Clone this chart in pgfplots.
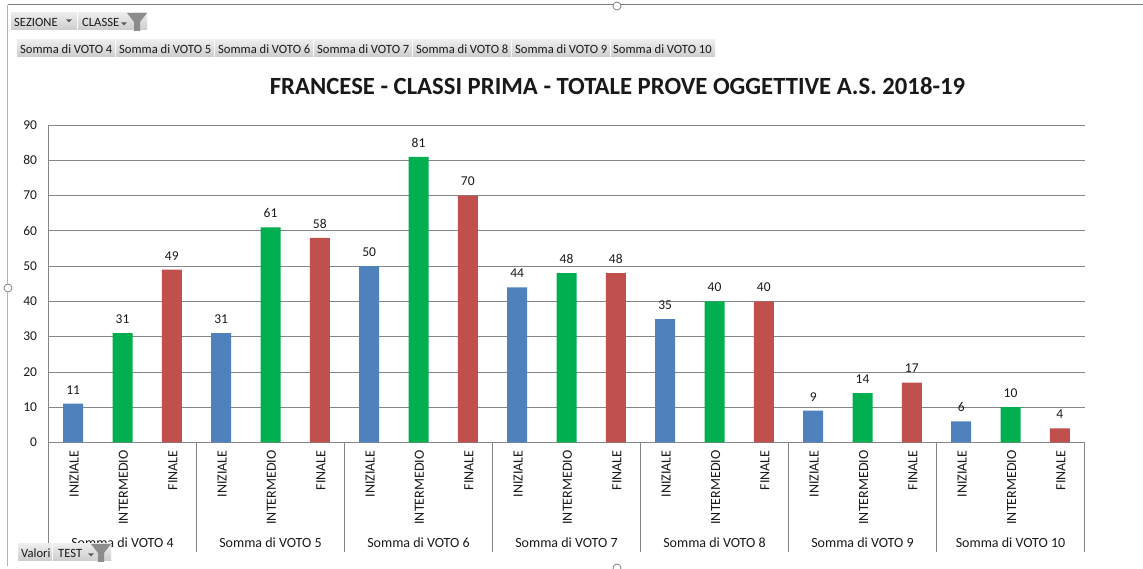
\documentclass[border=0pt]{standalone}
\usepackage{pgfplots}
\pgfplotsset{compat=1.18}
\usepackage{fontspec}
\setmainfont{Carlito}
\definecolor{cblue}{HTML}{4F81BD}
\definecolor{cgreen}{HTML}{00B050}
\definecolor{cred}{HTML}{C0504D}
\definecolor{cgrid}{HTML}{868686}
\definecolor{ctext}{HTML}{1A1A1A}
\pgfplotstableread{
x y
0.5 11
3.5 31
6.5 50
9.5 44
12.5 35
15.5 9
18.5 6
}\iniziale
\pgfplotstableread{
x y
1.5 31
4.5 61
7.5 81
10.5 48
13.5 40
16.5 14
19.5 10
}\intermedio
\pgfplotstableread{
x y
2.5 49
5.5 58
8.5 70
11.5 48
14.5 40
17.5 17
20.5 4
}\finale
\begin{document}
\begin{tikzpicture}[x=1pt,y=1pt]
\path[use as bounding box] (0,0) rectangle (1143,569);
\fill[white] (0,0) rectangle (1143,569);
\begin{axis}[
  at={(48.5pt,126.5pt)},anchor=south west,
  scale only axis,width=1036pt,height=317.5pt,
  xmin=0,xmax=21,ymin=0,ymax=90,
  axis x line=bottom,axis y line=left,
  axis line style={cgrid,-,line width=0.8pt},
  ymajorgrids,grid style={cgrid,line width=0.7pt},
  ytick={0,10,...,90},
  xtick={0.5,1.5,...,20.5},
  xticklabels={INIZIALE,INTERMEDIO,FINALE,INIZIALE,INTERMEDIO,FINALE,INIZIALE,INTERMEDIO,FINALE,INIZIALE,INTERMEDIO,FINALE,INIZIALE,INTERMEDIO,FINALE,INIZIALE,INTERMEDIO,FINALE,INIZIALE,INTERMEDIO,FINALE},
  major tick length=0pt,
  x tick label style={rotate=90,anchor=east,font=\fontsize{14}{15}\selectfont,text=ctext,yshift=-1pt},
  y tick label style={font=\fontsize{13.5}{15}\selectfont,text=ctext},
  xticklabel shift=4.5pt,
  yticklabel shift=8pt,
  /pgf/number format/assume math mode=true,
  ybar,bar width=20pt,
  clip=false,
  nodes near coords,
  nodes near coords style={font=\fontsize{13.5}{15}\selectfont,text=ctext,yshift=6pt},
]
\addplot[ybar,bar shift=0pt,fill=cblue,draw=none] table[x=x,y=y]{\iniziale};
\addplot[ybar,bar shift=0pt,fill=cgreen,draw=none] table[x=x,y=y]{\intermedio};
\addplot[ybar,bar shift=0pt,fill=cred,draw=none] table[x=x,y=y]{\finale};
\pgfplotsinvokeforeach{0,3,6,9,12,15,18,21}{
  \draw[cgrid,line width=0.8pt] (axis cs:#1,0) -- ++(0,-109.5pt);
}
\foreach \i/\n in {1.5/4,4.5/5,7.5/6,10.5/7,13.5/8,16.5/9,19.5/10}{
  \edef\temp{\noexpand\node[font=\noexpand\fontsize{14}{15}\noexpand\selectfont,text=ctext,anchor=center] at ([yshift=-100.5pt]axis cs:\i,0) {Somma di VOTO \n};}
  \temp
}
\end{axis}
\begin{scope}[shift={(0,569)},y=-1pt]
  % frame
  \draw[black!50,line width=1pt] (8,5) -- (1143,5);
  \draw[black!30,line width=0.7pt] (7.5,5) -- (7.5,566);
  \foreach \p in {(617,6),(8,288),(617,568)}{\fill[white] \p circle (4.5); \draw[black!55,line width=0.7pt] \p circle (4);}
  % panels
  \foreach \a/\b/\c/\d in {11/13/77/30,78/13/147/30,17/40/115/57,116/40/214/57,215/40/313/57,314/40/412/57,413/40/511/57,512/40/610/57,611/40/715/57,18/544/52/561,53/544/111/561}{
    \fill[top color=black!7,bottom color=black!20] (\a,\b) rectangle (\c,\d);
  }
  \def\pfont{\fontsize{12.6}{13}\selectfont}
  \node[font=\pfont,text=ctext,anchor=west,inner sep=0pt] at (14,22) {SEZIONE};
  \node[font=\pfont,text=ctext,anchor=west,inner sep=0pt] at (82,22) {CLASSE};
  \foreach \x/\n in {20/4,119/5,218/6,317/7,416/8,515/9,613/10}{
    \node[font=\pfont,text=ctext,anchor=west,inner sep=0pt] at (\x,49) {Somma di VOTO \n};
  }
  \node[font=\pfont,text=ctext,anchor=west,inner sep=0pt] at (21,553) {Valori};
  \node[font=\pfont,text=ctext,anchor=west,inner sep=0pt] at (58,553) {TEST};
  % arrows
  \foreach \x/\y in {69/21,124/24,91/555}{\fill[black!65] (\x-3,\y-1.5) -- (\x+3,\y-1.5) -- (\x,\y+1.5) -- cycle;}
  \fill[black!45] (127,13) -- (147,13) -- (140,22) -- (140,31) -- (134,31) -- (134,22) -- cycle;
  \fill[black!45] (91,544) -- (111,544) -- (104,553) -- (104,562) -- (98,562) -- (98,553) -- cycle;
  % title
  \node[font=\bfseries\fontsize{24.7}{26}\selectfont,text=black!90,anchor=center,inner sep=0pt] at (617.5,86) {FRANCESE - CLASSI PRIMA - TOTALE PROVE OGGETTIVE A.S. 2018-19};
\end{scope}
\end{tikzpicture}
\end{document}
